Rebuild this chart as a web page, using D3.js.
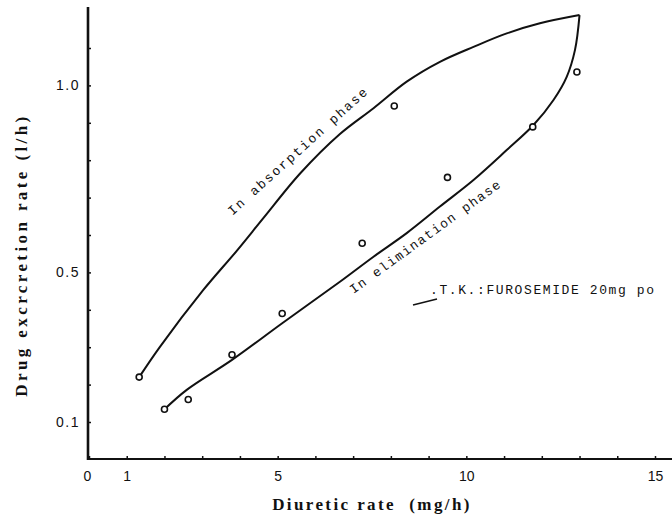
<!DOCTYPE html>
<html>
<head>
<meta charset="utf-8">
<script src="https://cdn.jsdelivr.net/npm/d3@7"></script>
<style>
  body { margin: 0; background: #fff; }
  svg { display: block; }
</style>
</head>
<body>
<svg></svg>
<script>
const width = 672;
const height = 520;

// observed points (diuretic rate mg/h, excretion rate l/h)
const obsDiuretic = [1.33, 2.0, 2.63, 3.79, 5.12, 7.24, 8.09, 9.5, 11.76, 12.93];
const obsExcretion = [0.22, 0.134, 0.16, 0.28, 0.39, 0.578, 0.945, 0.754, 0.889, 1.036];

// hand drawn curve, absorption phase
const absDiuretic = [1.33, 1.88, 3.03, 3.91, 4.62, 5.6, 6.65, 7.54, 8.42, 9.3, 10.19, 11.07, 11.95, 13.0];
const absExcretion = [0.22, 0.301, 0.453, 0.557, 0.645, 0.765, 0.87, 0.939, 1.01, 1.063, 1.103, 1.139, 1.166, 1.188];

// hand drawn curve, elimination phase
const elimDiuretic = [2.0, 2.59, 3.79, 5.12, 6.65, 7.54, 8.42, 9.3, 10.19, 11.07, 11.78, 12.31, 12.66, 12.88, 13.0];
const elimExcretion = [0.134, 0.186, 0.266, 0.364, 0.475, 0.542, 0.605, 0.676, 0.747, 0.827, 0.894, 0.961, 1.023, 1.095, 1.188];

const xTicks = d3.range(0, 16);
const xLabels = ["0", "1", "5", "10", "15"];
const yTicks = d3.range(1, 12).map((d) => d / 10);
const yLabels = ["0.1", "0.5", "1.0"];

const svg = d3.select("svg").attr("width", width).attr("height", height);

const x = d3.scaleLinear().domain([0, 15]).range([89, 655]);
const y = d3.scaleLinear().domain([0, 1]).range([459.4, 85.4]);

//axes
svg.append("line")
  .attr("x1", 88).attr("x2", 672)
  .attr("y1", 459).attr("y2", 459)
  .attr("stroke", "#111").attr("stroke-width", 2);

svg.append("line")
  .attr("x1", 88).attr("x2", 88)
  .attr("y1", 7).attr("y2", 460)
  .attr("stroke", "#111").attr("stroke-width", 2.6);

const xAxis = d3.axisBottom(x)
  .tickValues(xTicks)
  .tickSizeInner(-3)
  .tickSizeOuter(0)
  .tickPadding(12)
  .tickFormat((d) => (xLabels.includes(String(d)) ? String(d) : ""));

const gx = svg.append("g").attr("transform", "translate(0,459)").call(xAxis);
gx.select(".domain").remove();
gx.selectAll(".tick line").attr("stroke", "#111").attr("stroke-width", 1.5);
gx.selectAll(".tick text")
  .attr("font-family", "Liberation Sans, Arial, sans-serif")
  .attr("font-size", 14)
  .attr("fill", "#111");
gx.selectAll(".tick").filter((d) => d === 0).select("text").attr("dx", -2);

const yAxis = d3.axisLeft(y)
  .tickValues(yTicks)
  .tickSizeInner(-3)
  .tickSizeOuter(0)
  .tickPadding(8)
  .tickFormat((d) => {
    const s = d.toFixed(1);
    return yLabels.includes(s) ? s : "";
  });

const gy = svg.append("g").attr("transform", "translate(88,0)").call(yAxis);
gy.select(".domain").remove();
gy.selectAll(".tick line").attr("stroke", "#111").attr("stroke-width", 1.5);
gy.selectAll(".tick text")
  .attr("font-family", "Liberation Sans, Arial, sans-serif")
  .attr("font-size", 14)
  .attr("letter-spacing", 1.5)
  .attr("fill", "#111");

//axis titles
svg.append("text")
  .attr("x", 372)
  .attr("y", 510)
  .attr("text-anchor", "middle")
  .attr("font-family", "Liberation Serif, Times New Roman, serif")
  .attr("font-weight", "bold")
  .attr("font-size", 17)
  .attr("letter-spacing", 2.4)
  .attr("fill", "#111")
  .style("white-space", "pre")
  .text("Diuretic rate  (mg/h)");

svg.append("text")
  .attr("transform", "translate(27,255) rotate(-90)")
  .attr("text-anchor", "middle")
  .attr("font-family", "Liberation Serif, Times New Roman, serif")
  .attr("font-weight", "bold")
  .attr("font-size", 17)
  .attr("letter-spacing", 3.4)
  .attr("fill", "#111")
  .text("Drug excrcretion rate (l/h)");

//curves
const line = d3.line()
  .x((d) => x(d[0]))
  .y((d) => y(d[1]))
  .curve(d3.curveCatmullRom.alpha(0.5));

svg.append("path")
  .datum(d3.zip(absDiuretic, absExcretion))
  .attr("d", line)
  .attr("fill", "none")
  .attr("stroke", "#111")
  .attr("stroke-width", 2);

svg.append("path")
  .datum(d3.zip(elimDiuretic, elimExcretion))
  .attr("d", line)
  .attr("fill", "none")
  .attr("stroke", "#111")
  .attr("stroke-width", 2);

//points
svg.append("g")
  .selectAll("circle")
  .data(d3.zip(obsDiuretic, obsExcretion))
  .enter()
  .append("circle")
  .attr("cx", (d) => x(d[0]))
  .attr("cy", (d) => y(d[1]))
  .attr("r", 3)
  .attr("fill", "#fff")
  .attr("stroke", "#111")
  .attr("stroke-width", 1.6);

//annotations
const mono = "Liberation Mono, DejaVu Sans Mono, monospace";

svg.append("text")
  .attr("transform", "translate(301,154) rotate(-42)")
  .attr("text-anchor", "middle")
  .attr("font-family", mono)
  .attr("font-size", 13)
  .attr("letter-spacing", 1.9)
  .attr("fill", "#111")
  .text("In absorption phase");

svg.append("text")
  .attr("transform", "translate(428,240) rotate(-36)")
  .attr("text-anchor", "middle")
  .attr("font-family", mono)
  .attr("font-size", 13)
  .attr("letter-spacing", 1.4)
  .attr("fill", "#111")
  .text("In elimination phase");

svg.append("text")
  .attr("x", 430)
  .attr("y", 294)
  .attr("font-family", mono)
  .attr("font-size", 13)
  .attr("letter-spacing", 1.6)
  .attr("fill", "#111")
  .text(".T.K.:FUROSEMIDE 20mg po");

svg.append("line")
  .attr("x1", 413).attr("y1", 305)
  .attr("x2", 437).attr("y2", 299)
  .attr("stroke", "#111")
  .attr("stroke-width", 1.8);
</script>
</body>
</html>
